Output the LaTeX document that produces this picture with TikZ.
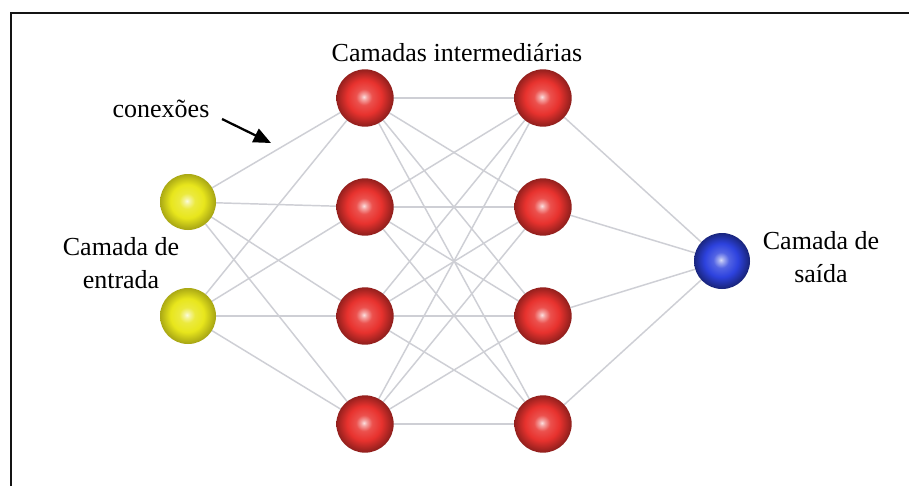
\documentclass[tikz,border=0pt]{standalone}
\usepackage{fontspec}
\setmainfont{Liberation Serif}
\usetikzlibrary{arrows.meta}

\definecolor{neuronred}{RGB}{232,50,46}
\definecolor{neuronyellow}{RGB}{232,230,28}
\definecolor{neuronblue}{RGB}{45,66,222}
\definecolor{linkgray}{RGB}{206,207,213}
\definecolor{framecolor}{RGB}{20,20,20}

% glossy sphere shadings: soft highlight near the centre, darker rim
\pgfdeclareradialshading{sphere-red}{\pgfpoint{-1bp}{1bp}}{%
  color(0bp)=(white!85!neuronred); color(2.5bp)=(neuronred!45!white); color(7bp)=(neuronred!85!white);
  color(15bp)=(neuronred); color(25bp)=(neuronred!62!black); color(50bp)=(neuronred!62!black)}
\pgfdeclareradialshading{sphere-yellow}{\pgfpoint{-1bp}{1bp}}{%
  color(0bp)=(white!85!neuronyellow); color(2.5bp)=(neuronyellow!45!white); color(7bp)=(neuronyellow!85!white);
  color(15bp)=(neuronyellow); color(25bp)=(neuronyellow!72!black); color(50bp)=(neuronyellow!72!black)}
\pgfdeclareradialshading{sphere-blue}{\pgfpoint{-1bp}{1bp}}{%
  color(0bp)=(white!80!neuronblue); color(2.5bp)=(neuronblue!45!white); color(7bp)=(neuronblue!82!white);
  color(15bp)=(neuronblue); color(25bp)=(neuronblue!55!black); color(50bp)=(neuronblue!55!black)}

\tikzset{
  neuron/.style={circle, inner sep=0pt, minimum size=43pt},
  hiddenunit/.style={neuron, shading=sphere-red},
  inputunit/.style={neuron, shading=sphere-yellow, minimum size=42pt},
  outputunit/.style={neuron, shading=sphere-blue, minimum size=42pt},
  link/.style={draw=linkgray, line width=1.1pt},
  caption/.style={inner sep=0pt, font=\fontsize{19.5}{24.75}\selectfont},
}

\begin{document}
\begin{tikzpicture}[x=0.75pt, y=-0.75pt]
  \useasboundingbox (0,0) rectangle (909,486);
  \fill[white] (0,0) rectangle (909,486);

  % open frame: top and left edges
  \draw[framecolor, line width=1.9pt] (11,486) -- (11,13) -- (909,13);

  % unit positions (the spheres are drawn after the links)
  \path
    (188,202) coordinate (i1)
    (188,316) coordinate (i2)
    (365,98)  coordinate (a1)
    (365,207) coordinate (a2)
    (365,316) coordinate (a3)
    (365,424) coordinate (a4)
    (543,98)  coordinate (b1)
    (543,207) coordinate (b2)
    (543,316) coordinate (b3)
    (543,424) coordinate (b4)
    (722,261) coordinate (o1);

  % connections
  \foreach \i in {1,2} \foreach \j in {1,...,4} \draw[link] (i\i) -- (a\j);
  \foreach \i in {1,...,4} \foreach \j in {1,...,4} \draw[link] (a\i) -- (b\j);
  \foreach \i in {1,...,4} \draw[link] (b\i) -- (o1);

  % neurons
  \foreach \i in {1,2} \node[inputunit] (in\i) at (i\i) {};
  \foreach \i in {1,...,4} \node[hiddenunit] (ha\i) at (a\i) {};
  \foreach \i in {1,...,4} \node[hiddenunit] (hb\i) at (b\i) {};
  \node[outputunit] (out) at (o1) {};

  % labels
  \node[caption, anchor=base] (hiddenlabel) at (457,61) {Camadas intermediárias};
  \node[caption, anchor=base] (connlabel) at (161,117) {conexões};
  \node[caption, align=center, anchor=north] (inlabel) at (121,237) {Camada de\\entrada};
  \node[caption, align=center, anchor=north] (outlabel) at (821,231) {Camada de\\saída};

  % pointer to the connections
  \coordinate (arrowtail) at (222,119);
  \coordinate (arrowtip) at (271,143);
  \draw[line width=1.7pt, -{Triangle[length=13pt, width=11pt]}] (arrowtail) -- (arrowtip);
\end{tikzpicture}
\end{document}
